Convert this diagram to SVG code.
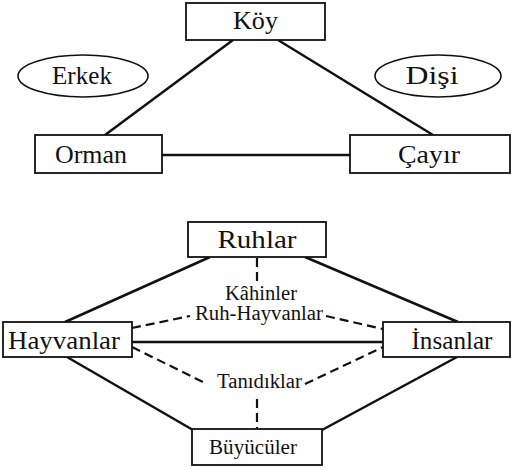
<svg xmlns="http://www.w3.org/2000/svg" width="512" height="470" viewBox="0 0 512 470">
<style>
.box{fill:#fff;stroke:#111;stroke-width:1.8}
.ell{fill:#fff;stroke:#111;stroke-width:1.6}
text{font-family:'Liberation Serif','DejaVu Serif',serif;fill:#111;text-anchor:middle}
.t{font-size:25px}
.s{font-size:20px}
.ln{stroke:#111;stroke-width:2.5;fill:none}
.dl{stroke:#111;stroke-width:2.2;fill:none;stroke-dasharray:9 5}
</style>
<rect width="512" height="470" fill="#fff"/>
<g id="connectors">
<line class="ln" x1="233" y1="40" x2="105" y2="135"/>
<line class="ln" x1="278" y1="40" x2="433" y2="135"/>
<line class="ln" x1="162" y1="155" x2="350" y2="155" stroke-width="3.2"/>
<line class="ln" x1="210" y1="257" x2="65" y2="322"/>
<line class="ln" x1="305" y1="257" x2="458" y2="322"/>
<line class="ln" x1="67" y1="357" x2="193" y2="430"/>
<line class="ln" x1="457" y1="357" x2="322" y2="430"/>
<line class="ln" x1="132" y1="342" x2="383" y2="342"/>
<line class="dl" x1="257" y1="258" x2="257" y2="282"/>
<line class="dl" x1="132" y1="328" x2="190" y2="316"/>
<line class="dl" x1="326" y1="316" x2="383" y2="329"/>
<line class="dl" x1="132" y1="347" x2="207" y2="384"/>
<line class="dl" x1="305" y1="384" x2="383" y2="347"/>
<line class="dl" x1="257" y1="399" x2="257" y2="429"/>
</g>
<g id="koy"><rect class="box" x="186" y="3" width="139" height="37"/><text class="t" x="255.5" y="29" textLength="45" lengthAdjust="spacingAndGlyphs">Köy</text></g>
<g id="erkek"><ellipse class="ell" cx="83" cy="76" rx="65" ry="21"/><text class="t" x="82" y="84" textLength="60" lengthAdjust="spacingAndGlyphs">Erkek</text></g>
<g id="disi"><ellipse class="ell" cx="438" cy="76" rx="63" ry="21"/><text class="t" x="432" y="84" textLength="53" lengthAdjust="spacingAndGlyphs">Dişi</text></g>
<g id="orman"><rect class="box" x="35" y="135" width="127" height="38"/><text class="t" x="91" y="163" textLength="72" lengthAdjust="spacingAndGlyphs">Orman</text></g>
<g id="cayir"><rect class="box" x="350" y="135" width="160" height="38"/><text class="t" x="429" y="163" textLength="62" lengthAdjust="spacingAndGlyphs">Çayır</text></g>
<g id="ruhlar"><rect class="box" x="188" y="222" width="138" height="35"/><text class="t" x="257" y="248" textLength="79" lengthAdjust="spacingAndGlyphs">Ruhlar</text></g>
<g id="kahinler"><text class="s" x="261" y="300" textLength="72" lengthAdjust="spacingAndGlyphs">Kâhinler</text><text class="s" x="259" y="320" textLength="128" lengthAdjust="spacingAndGlyphs">Ruh-Hayvanlar</text></g>
<g id="hayvanlar"><rect class="box" x="3" y="322" width="129" height="35"/><text class="t" x="64" y="349" textLength="112" lengthAdjust="spacingAndGlyphs">Hayvanlar</text></g>
<g id="insanlar"><rect class="box" x="383" y="322" width="127" height="35"/><text class="t" x="452" y="349" textLength="81" lengthAdjust="spacingAndGlyphs">İnsanlar</text></g>
<g id="tanidiklar"><text class="s" x="259.5" y="388" textLength="85" lengthAdjust="spacingAndGlyphs">Tanıdıklar</text></g>
<g id="buyuculer"><rect class="box" x="192" y="429" width="130" height="36"/><text class="s" x="253" y="454" textLength="88" lengthAdjust="spacingAndGlyphs">Büyücüler</text></g>
</svg>
